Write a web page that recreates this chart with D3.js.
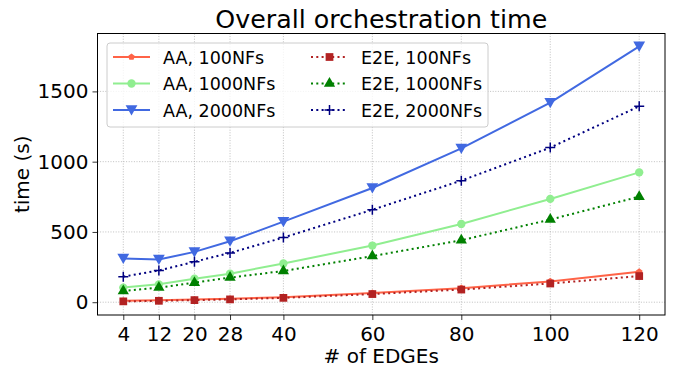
<!DOCTYPE html>
<html lang="en">
<head>
<meta charset="utf-8">
<title>Overall orchestration time</title>
<script src="https://cdn.jsdelivr.net/npm/d3@7"></script>
<style>
  body { margin: 0; background: white; }
  svg text { font-family: "DejaVu Sans", sans-serif; fill: #000; }
  .grid line { stroke: #b0b0b0; stroke-width: 0.8; stroke-dasharray: 1,1.6; }
  .axis path { display: none; }
  .axis line { stroke: #000; stroke-width: 0.8; }
</style>
</head>
<body>
<script>
// data
var edges = [4, 12, 20, 28, 40, 60, 80, 100, 120];
var aa100   = [10, 14, 19, 24, 36, 66, 100, 148, 216];
var aa1000  = [104, 127, 167, 203, 276, 403, 557, 735, 924];
var aa2000  = [311, 304, 358, 434, 573, 813, 1094, 1420, 1821];
var e2e100  = [6, 10, 15, 20, 31, 58, 90, 133, 186];
var e2e1000 = [80, 104, 139, 175, 222, 328, 441, 588, 751];
var e2e2000 = [182, 226, 288, 351, 460, 658, 865, 1100, 1394];
var yTicks = [0, 500, 1000, 1500];

var W = 673, H = 368;
var margin = {top: 33.5, right: 8, bottom: 53, left: 97.5};
var iw = W - margin.left - margin.right,
    ih = H - margin.top - margin.bottom;

// pentagon symbol (matplotlib "p")
var pentagon = {
  draw: function(ctx, size) {
    var r = Math.sqrt(size / 2.378);
    for (var i = 0; i < 5; i++) {
      var a = -Math.PI / 2 + i * 2 * Math.PI / 5;
      if (i === 0) ctx.moveTo(r * Math.cos(a), r * Math.sin(a));
      else ctx.lineTo(r * Math.cos(a), r * Math.sin(a));
    }
    ctx.closePath();
  }
};
var triDown = {
  draw: function(ctx, size) {
    var s = Math.sqrt(size) * 0.75;
    ctx.moveTo(-s, -s * 0.8);
    ctx.lineTo(s, -s * 0.8);
    ctx.lineTo(0, s * 0.95);
    ctx.closePath();
  }
};

var series = [
  {name: "AA, 100NFs",   vals: aa100,   color: "#ff6347", dash: null, sym: pentagon, size: 30},
  {name: "AA, 1000NFs",  vals: aa1000,  color: "#90ee90", dash: null, sym: d3.symbolCircle, size: 55},
  {name: "AA, 2000NFs",  vals: aa2000,  color: "#4169e1", dash: null, sym: triDown, size: 62},
  {name: "E2E, 100NFs",  vals: e2e100,  color: "#b22222", dash: "2,3.3", sym: d3.symbolSquare, size: 60},
  {name: "E2E, 1000NFs", vals: e2e1000, color: "#008000", dash: "2,3.3", sym: d3.symbolTriangle, size: 55},
  {name: "E2E, 2000NFs", vals: e2e2000, color: "#000080", dash: "2,3.3", sym: "plus", size: 5}
];

var svg = d3.select("body").append("svg")
  .attr("width", W).attr("height", H);
var g = svg.append("g")
  .attr("transform", "translate(" + margin.left + "," + margin.top + ")");

var x = d3.scaleLinear().domain([-1.8, 125.8]).range([0, iw]);
var y = d3.scaleLinear().domain([-91, 1912]).range([ih, 0]);

// grid
g.append("g").attr("class", "grid")
  .selectAll("line").data(edges).enter().append("line")
  .attr("x1", function(d) { return x(d); }).attr("x2", function(d) { return x(d); })
  .attr("y1", 0).attr("y2", ih);
g.append("g").attr("class", "grid")
  .selectAll("line").data(yTicks).enter().append("line")
  .attr("y1", function(d) { return y(d); }).attr("y2", function(d) { return y(d); })
  .attr("x1", 0).attr("x2", iw);

// axes
var xAxis = g.append("g").attr("class", "axis")
  .attr("transform", "translate(0," + ih + ")")
  .call(d3.axisBottom(x).tickValues(edges).tickSize(5).tickPadding(7));
xAxis.selectAll("text").attr("font-size", "20px");
var yAxis = g.append("g").attr("class", "axis")
  .call(d3.axisLeft(y).tickValues(yTicks).tickFormat(d3.format("d")).tickSize(5).tickPadding(4));
yAxis.selectAll("text").attr("font-size", "20px");

// lines + markers
var line = d3.line()
  .x(function(d, i) { return x(edges[i]); })
  .y(function(d) { return y(d); });

function drawMarker(sel, s) {
  if (s.sym === "plus") {
    sel.append("path")
      .attr("d", "M-5,0H5M0,-5V5")
      .attr("stroke", s.color).attr("stroke-width", 1.5).attr("fill", "none");
  } else {
    sel.append("path")
      .attr("d", d3.symbol().type(s.sym).size(s.size)())
      .attr("fill", s.color);
  }
}

series.forEach(function(s) {
  g.append("path")
    .datum(s.vals)
    .attr("d", line)
    .attr("fill", "none")
    .attr("stroke", s.color)
    .attr("stroke-width", 2)
    .attr("stroke-dasharray", s.dash);
  g.selectAll(null).data(s.vals).enter().append("g")
    .attr("transform", function(d, i) { return "translate(" + x(edges[i]) + "," + y(d) + ")"; })
    .each(function() { drawMarker(d3.select(this), s); });
});

// frame
g.append("rect")
  .attr("width", iw).attr("height", ih)
  .attr("fill", "none").attr("stroke", "#000").attr("stroke-width", 1);

// title & labels
svg.append("text")
  .attr("x", margin.left + iw / 2).attr("y", 28)
  .attr("text-anchor", "middle").attr("font-size", "25.3px")
  .text("Overall orchestration time");
svg.append("text")
  .attr("x", margin.left + iw / 2).attr("y", 363)
  .attr("text-anchor", "middle").attr("font-size", "20px")
  .text("# of EDGEs");
svg.append("text")
  .attr("transform", "translate(28.5," + (margin.top + ih / 2) + ") rotate(-90)")
  .attr("text-anchor", "middle").attr("font-size", "20px")
  .text("time (s)");

// legend
var leg = svg.append("g").attr("transform", "translate(107,43)");
leg.append("rect")
  .attr("width", 381).attr("height", 84).attr("rx", 3)
  .attr("fill", "white").attr("fill-opacity", 0.8)
  .attr("stroke", "#ccc").attr("stroke-width", 1);
series.forEach(function(s, i) {
  var col = Math.floor(i / 3), row = i % 3;
  var lg = leg.append("g")
    .attr("transform", "translate(" + (6 + col * 198) + "," + (14 + row * 26.5) + ")");
  lg.append("line")
    .attr("x1", 0).attr("x2", 37)
    .attr("stroke", s.color).attr("stroke-width", 2)
    .attr("stroke-dasharray", s.dash);
  var m = lg.append("g").attr("transform", "translate(18.5,0)");
  drawMarker(m, s);
  lg.append("text")
    .attr("x", 50).attr("y", 6.5)
    .attr("font-size", "17.5px")
    .text(s.name);
});
</script>
</body>
</html>
